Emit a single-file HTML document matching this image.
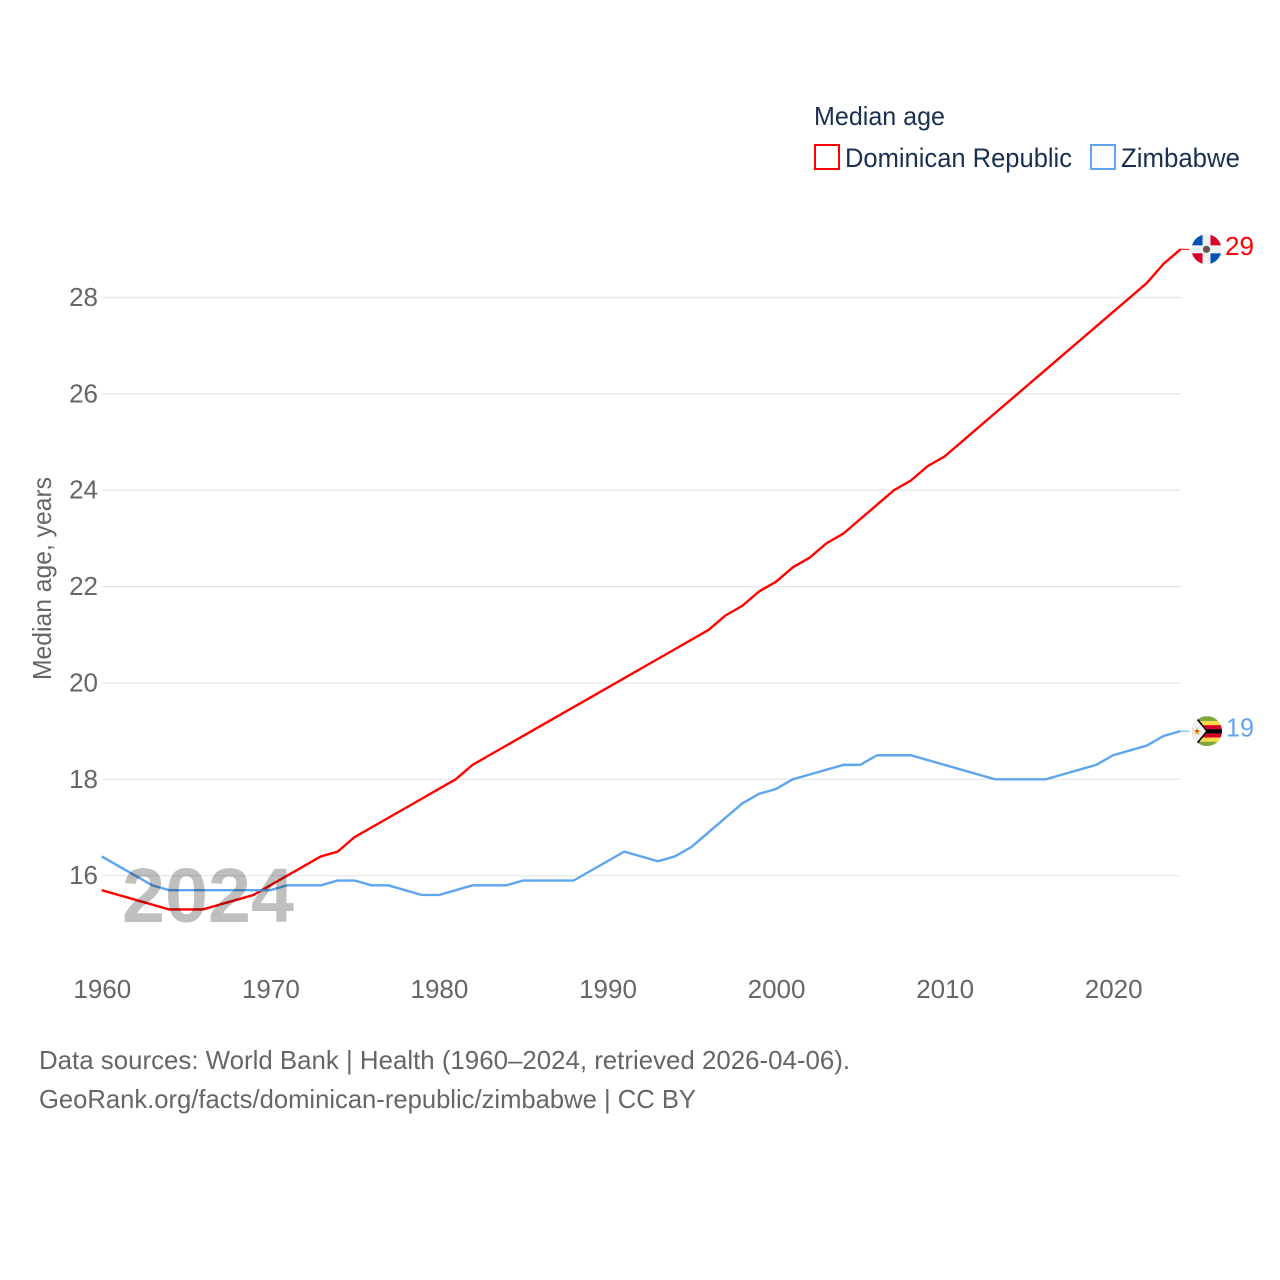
<!DOCTYPE html>
<html lang="en">
<head>
<meta charset="utf-8">
<title>Median age: Dominican Republic vs Zimbabwe</title>
<style>
html,body{margin:0;padding:0;background:#fff;width:1280px;height:1280px;overflow:hidden}
svg{display:block;font-family:"Liberation Sans",sans-serif}
</style>
</head>
<body>
<svg id="chart" width="1280" height="1280" viewBox="0 0 1280 1280" xmlns="http://www.w3.org/2000/svg">
  <defs>
    <clipPath id="flag-clip"><circle cx="0" cy="0" r="15"></circle></clipPath>
  </defs>
  <rect x="0" y="0" width="1280" height="1280" fill="#fff"></rect>

  <text x="814" y="125" font-size="26" fill="#1a3050" textLength="131" lengthAdjust="spacingAndGlyphs">Median age</text>
  <g>
    <rect x="815" y="145" width="24" height="24" fill="none" stroke="#ff0000" stroke-width="2"></rect>
    <text x="845" y="167" font-size="27" fill="#1a3050" textLength="227" lengthAdjust="spacingAndGlyphs">Dominican Republic</text>
  </g>
  <g>
    <rect x="1091" y="145" width="24" height="24" fill="none" stroke="#5ea5ee" stroke-width="2"></rect>
    <text x="1121" y="167" font-size="27" fill="#1a3050" textLength="119" lengthAdjust="spacingAndGlyphs">Zimbabwe</text>
  </g>

  <text transform="translate(51 680) rotate(-90)" font-size="26" fill="#666666" textLength="203" lengthAdjust="spacingAndGlyphs">Median age, years</text>

  <g id="grid"></g>
  <g id="y-ticks"></g>
  <g id="x-ticks"></g>
  <g id="series"></g>

  <text x="122" y="922" font-size="77" font-weight="bold" fill="#000000" fill-opacity="0.25" textLength="172" lengthAdjust="spacingAndGlyphs">2024</text>

  <g id="flag-dr">
    <g clip-path="url(#flag-clip)">
      <rect x="-15" y="-15" width="30" height="30" fill="#f0f0f0"></rect>
      <rect x="-15" y="-15" width="11" height="11" fill="#0052b4"></rect>
      <rect x="4" y="-15" width="11" height="11" fill="#d80027"></rect>
      <rect x="-15" y="4" width="11" height="11" fill="#d80027"></rect>
      <rect x="4" y="4" width="11" height="11" fill="#0052b4"></rect>
      <circle cx="0" cy="0" r="3.6" fill="#466a5a"></circle>
      <circle cx="0" cy="0" r="1.8" fill="#b03040"></circle>
    </g>
  </g>
  <text id="label-dr" x="1225" font-size="26" fill="#ff0000" textLength="29" lengthAdjust="spacingAndGlyphs"></text>

  <g id="flag-zw">
    <g clip-path="url(#flag-clip)">
      <rect x="-15" y="-15" width="30" height="5" fill="#7fa83c"></rect>
      <rect x="-15" y="-10" width="30" height="4" fill="#ffda44"></rect>
      <rect x="-15" y="-6" width="30" height="4" fill="#d80027"></rect>
      <rect x="-15" y="-2" width="30" height="4.5" fill="#000000"></rect>
      <rect x="-15" y="2.5" width="30" height="4" fill="#d80027"></rect>
      <rect x="-15" y="6.5" width="30" height="4" fill="#ffda44"></rect>
      <rect x="-15" y="10.5" width="30" height="5" fill="#7fa83c"></rect>
      <polygon points="-15,-15 -11,-15 -1,0 -11,15 -15,15" fill="#f0f0f0"></polygon>
      <polyline points="-11,-13.5 0,0 -11,13.5" fill="none" stroke="#000000" stroke-width="1.6"></polyline>
      <polygon points="-10,-4 -9,-1 -6,-1 -8.5,1 -7.5,4 -10,2 -12.5,4 -11.5,1 -14,-1 -11,-1" fill="#f5a623"></polygon>
      <circle cx="-10" cy="0" r="1" fill="#d80027"></circle>
    </g>
  </g>
  <text id="label-zw" x="1226" font-size="26" fill="#5ea5ee" textLength="28" lengthAdjust="spacingAndGlyphs"></text>

  <text x="39" y="1069" font-size="26" fill="#666666" textLength="811" lengthAdjust="spacingAndGlyphs">Data sources: World Bank | Health (1960–2024, retrieved 2026-04-06).</text>
  <text x="39" y="1108" font-size="26" fill="#666666" textLength="657" lengthAdjust="spacingAndGlyphs">GeoRank.org/facts/dominican-republic/zimbabwe | CC BY</text>
</svg>
<script>
const years = [1960,1961,1962,1963,1964,1965,1966,1967,1968,1969,1970,1971,1972,1973,1974,1975,1976,1977,1978,1979,1980,1981,1982,1983,1984,1985,1986,1987,1988,1989,1990,1991,1992,1993,1994,1995,1996,1997,1998,1999,2000,2001,2002,2003,2004,2005,2006,2007,2008,2009,2010,2011,2012,2013,2014,2015,2016,2017,2018,2019,2020,2021,2022,2023,2024];
const dominicanRepublic = [15.7,15.6,15.5,15.4,15.3,15.3,15.3,15.4,15.5,15.6,15.8,16.0,16.2,16.4,16.5,16.8,17.0,17.2,17.4,17.6,17.8,18.0,18.3,18.5,18.7,18.9,19.1,19.3,19.5,19.7,19.9,20.1,20.3,20.5,20.7,20.9,21.1,21.4,21.6,21.9,22.1,22.4,22.6,22.9,23.1,23.4,23.7,24.0,24.2,24.5,24.7,25.0,25.3,25.6,25.9,26.2,26.5,26.8,27.1,27.4,27.7,28.0,28.3,28.7,29.0];
const zimbabwe = [16.4,16.2,16.0,15.8,15.7,15.7,15.7,15.7,15.7,15.7,15.7,15.8,15.8,15.8,15.9,15.9,15.8,15.8,15.7,15.6,15.6,15.7,15.8,15.8,15.8,15.9,15.9,15.9,15.9,16.1,16.3,16.5,16.4,16.3,16.4,16.6,16.9,17.2,17.5,17.7,17.8,18.0,18.1,18.2,18.3,18.3,18.5,18.5,18.5,18.4,18.3,18.2,18.1,18.0,18.0,18.0,18.0,18.1,18.2,18.3,18.5,18.6,18.7,18.9,19.0];
const yTickLabels = [16,18,20,22,24,26,28];
const xTickLabels = [1960,1970,1980,1990,2000,2010,2020];

const SVG_NS = 'http://www.w3.org/2000/svg';
function xScale(year) { return 101.7 + (year - 1960) * (1180.5 - 101.7) / 64; }
function yScale(value) { return 875.7 - (value - 16) * (875.7 - 297.5) / 12; }

const gridGroup = document.getElementById('grid');
const yTickGroup = document.getElementById('y-ticks');
yTickLabels.forEach(function (tick) {
  const line = document.createElementNS(SVG_NS, 'line');
  
  
  line.setAttribute('x1', 102);
  line.setAttribute('x2', 1181);
  line.setAttribute('y1', yScale(tick));
  line.setAttribute('y2', yScale(tick));
  line.setAttribute('stroke', '#e6e6e6');
  line.setAttribute('stroke-width', 1.2);
  gridGroup.appendChild(line);

  const label = document.createElementNS(SVG_NS, 'text');
  
  
  label.setAttribute('x', 98);
  label.setAttribute('y', yScale(tick) + 8.5);
  label.setAttribute('text-anchor', 'end');
  label.setAttribute('font-size', 26);
  label.setAttribute('fill', '#666666');
  label.textContent = tick;
  yTickGroup.appendChild(label);
});

const xTickGroup = document.getElementById('x-ticks');
xTickLabels.forEach(function (tick) {
  const label = document.createElementNS(SVG_NS, 'text');
  
  
  label.setAttribute('x', xScale(tick) + 0.6);
  label.setAttribute('y', 998);
  label.setAttribute('text-anchor', 'middle');
  label.setAttribute('font-size', 26);
  label.setAttribute('fill', '#666666');
  label.textContent = tick;
  xTickGroup.appendChild(label);
});

const seriesGroup = document.getElementById('series');

function drawLine(values, color, name) {
  const points = values.map(function (value, i) {
    return xScale(years[i]).toFixed(2) + ',' + yScale(value).toFixed(2);
  }).join(' ');
  const line = document.createElementNS(SVG_NS, 'polyline');
  
  
  line.setAttribute('points', points);
  line.setAttribute('fill', 'none');
  line.setAttribute('stroke', color);
  line.setAttribute('stroke-width', 2.4);
  line.setAttribute('stroke-linejoin', 'round');
  seriesGroup.appendChild(line);

  const lastValue = values[values.length - 1];
  const lastX = xScale(years[years.length - 1]);
  const stub = document.createElementNS(SVG_NS, 'line');
  
  
  stub.setAttribute('x1', lastX);
  stub.setAttribute('x2', lastX + 9);
  stub.setAttribute('y1', yScale(lastValue));
  stub.setAttribute('y2', yScale(lastValue));
  stub.setAttribute('stroke', color);
  stub.setAttribute('stroke-width', 1);
  seriesGroup.appendChild(stub);
}

drawLine(dominicanRepublic, '#ff0000', 'dominican-republic');
drawLine(zimbabwe, '#5ea5ee', 'zimbabwe');

function placeEnd(flagId, labelId, values, flagX) {
  const lastValue = values[values.length - 1];
  const endY = yScale(lastValue);
  document.getElementById(flagId).setAttribute('transform', 'translate(' + flagX + ' ' + endY + ')');
  const label = document.getElementById(labelId);
  label.setAttribute('y', endY + 5.5);
  label.textContent = Math.round(lastValue);
}

placeEnd('flag-dr', 'label-dr', dominicanRepublic, 1206.5);
placeEnd('flag-zw', 'label-zw', zimbabwe, 1207);
</script>
</body>
</html>
